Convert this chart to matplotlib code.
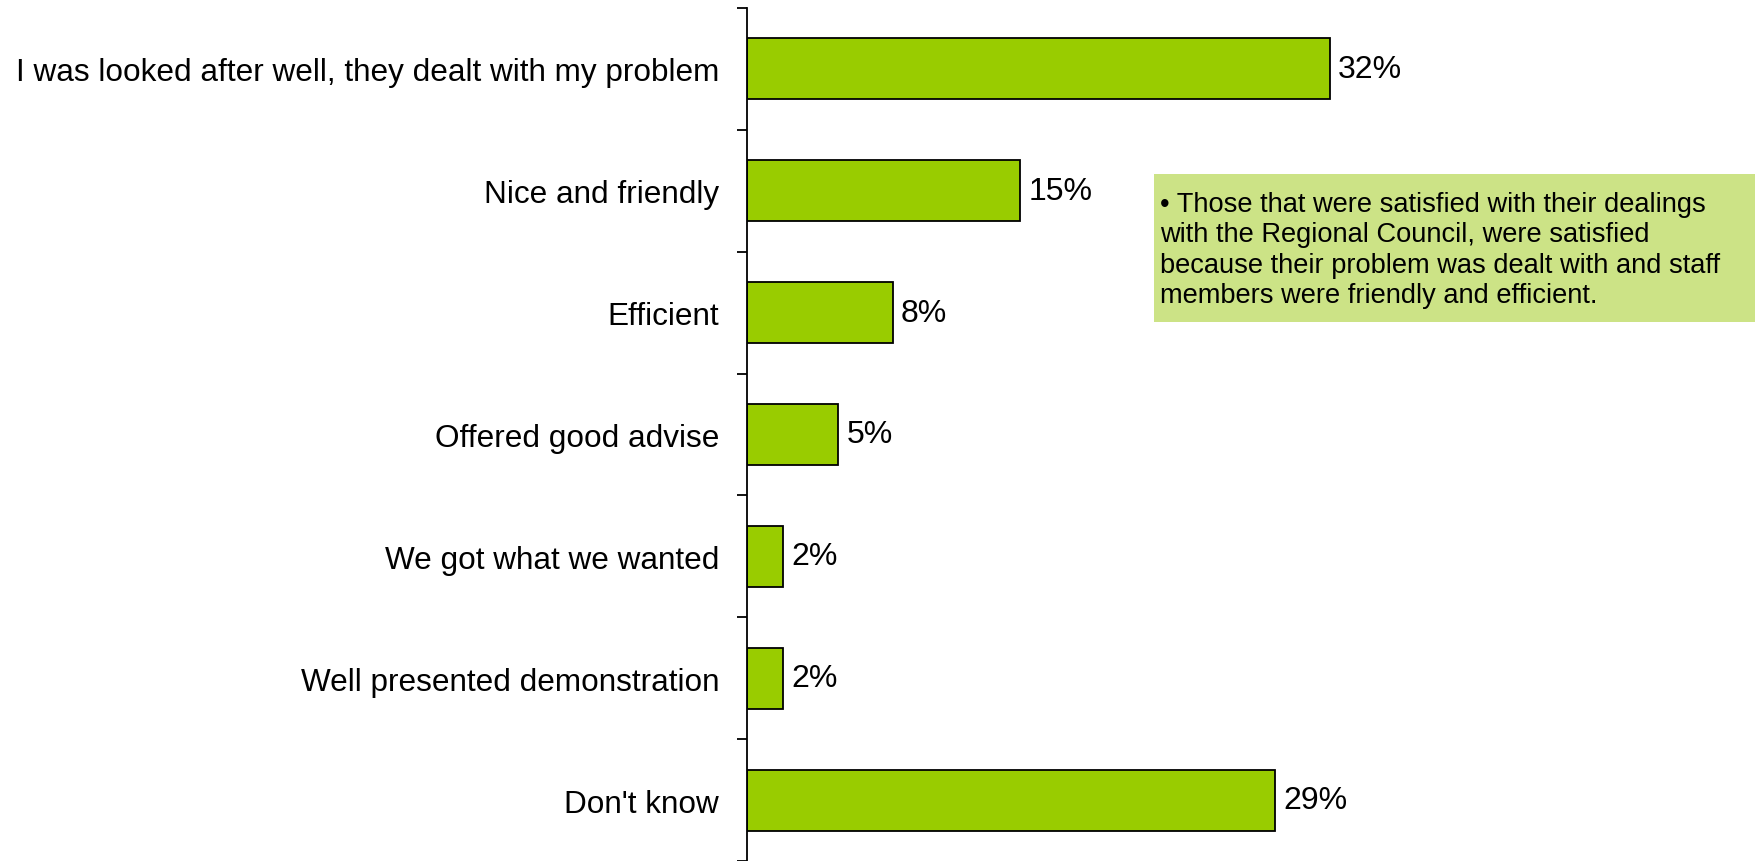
import matplotlib.pyplot as plt
import numpy as np

plt.rcParams['font.family'] = ['Liberation Sans', 'DejaVu Sans']

categories = [
    "I was looked after well, they dealt with my problem",
    "Nice and friendly",
    "Efficient",
    "Offered good advise",
    "We got what we wanted",
    "Well presented demonstration",
    "Don't know",
]
values = [32, 15, 8, 5, 2, 2, 29]
note = ("\u2022 Those that were satisfied with their dealings\n"
        "with the Regional Council, were satisfied\n"
        "because their problem was dealt with and staff\n"
        "members were friendly and efficient.")

fig = plt.figure(figsize=(17.56, 8.62), dpi=100)
ax = fig.add_axes([747 / 1756, 0.0, 1 - 747 / 1756, 1 - 9 / 862])

y = np.arange(len(categories))
ax.barh(y, values, height=0.5, color="#99CC00", edgecolor="black", linewidth=1.3)

for yi, v in zip(y, values):
    ax.text(v + 0.45, yi, f"{v}%", va="center", ha="left", fontsize=23)

ax.set_ylim(len(categories) - 0.5, -0.5)
ax.set_xlim(0, 55.4)

ax.set_yticks(y)
ax.set_yticklabels(categories, fontsize=22.7)
ax.tick_params(axis="y", which="major", length=0, pad=20)
ax.set_yticks(np.arange(-0.5, len(categories), 1.0), minor=True)
ax.tick_params(axis="y", which="minor", length=7, width=1.3, direction="out")
ax.set_xticks([])

for side in ["top", "right", "bottom"]:
    ax.spines[side].set_visible(False)
ax.spines["left"].set_linewidth(1.3)

fig.patches.append(plt.Rectangle((1154 / 1756, 1 - 323 / 862), 1 - 1154 / 1756, 148 / 862,
                                 transform=fig.transFigure, facecolor="#CCE386",
                                 edgecolor="none", zorder=5))
fig.text(1160 / 1756, 1 - 192 / 862, note, fontsize=19.6, va="top", ha="left",
         linespacing=1.22, zorder=6)

fig.savefig("out.png", dpi=100)
